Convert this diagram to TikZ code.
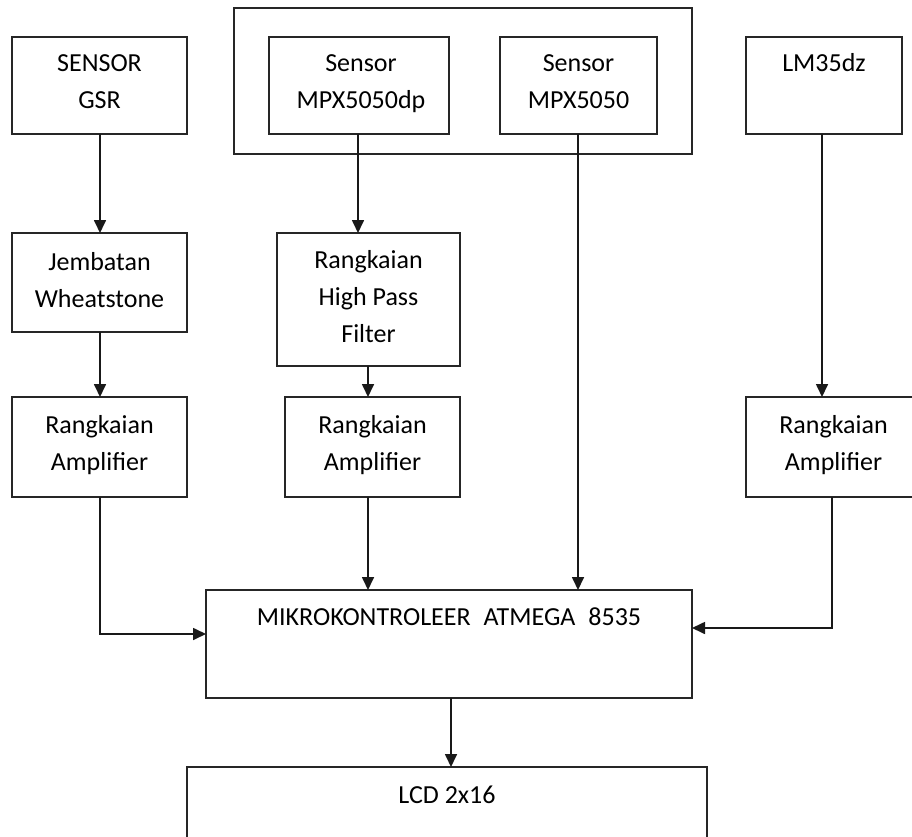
\documentclass[tikz,border=0pt]{standalone}
\usepackage{fontspec}
\setmainfont{Carlito}
\usetikzlibrary{arrows.meta}
\begin{document}
\begin{tikzpicture}[x=1pt,y=-1pt,
  box/.style={draw=black!85, line width=1.5pt, anchor=north west, inner sep=0pt, outer sep=0pt},
  lbl/.style={align=center, anchor=base, inner sep=0pt, font=\fontsize{26}{37}\selectfont},
  arr/.style={draw=black!90, line width=1.7pt, -{Triangle[width=12pt,length=13pt]}},
]
\useasboundingbox (0,0) rectangle (912,837);
\clip (0,0) rectangle (912,837);
\fill[white] (0,0) rectangle (912,837);

% boxes
\node[box, minimum width=458pt, minimum height=146pt] (grp)   at (234,8) {};
\node[box, minimum width=175pt, minimum height=97pt]  (gsr)   at (12,37) {};
\node[box, minimum width=180pt, minimum height=97pt]  (mpxdp) at (269,37) {};
\node[box, minimum width=157pt, minimum height=97pt]  (mpx)   at (500,37) {};
\node[box, minimum width=156pt, minimum height=97pt]  (lm)    at (746,37) {};
\node[box, minimum width=175pt, minimum height=99pt]  (wheat) at (12,233) {};
\node[box, minimum width=183pt, minimum height=133pt] (hpf)   at (277,233) {};
\node[box, minimum width=175pt, minimum height=100pt] (ampL)  at (12,397) {};
\node[box, minimum width=175pt, minimum height=100pt] (ampM)  at (285,397) {};
\node[box, minimum width=175pt, minimum height=100pt] (ampR)  at (746,397) {};
\node[box, minimum width=486pt, minimum height=108pt] (mcu)   at (206,590) {};
\node[box, minimum width=520pt, minimum height=80pt]  (lcd)   at (187,767) {};

% texts (anchor=base is the baseline of the last line)
\node[lbl] (gsrT)   at ([yshift=-72pt]gsr.north)   {SENSOR\\GSR};
\node[lbl] (mpxdpT) at ([yshift=-72pt,xshift=2pt]mpxdp.north) {Sensor\\MPX5050dp};
\node[lbl] (mpxT)   at ([yshift=-72pt]mpx.north)   {Sensor\\MPX5050};
\node[lbl] (lmT)    at ([yshift=-35pt]lm.north)    {LM35dz};
\node[lbl] (wheatT) at ([yshift=-74pt]wheat.north) {Jembatan\\Wheatstone};
\node[lbl] (hpfT)   at ([yshift=-109pt]hpf.north)  {Rangkaian\\High Pass\\Filter};
\node[lbl] (ampLT)  at ([yshift=-73pt]ampL.north)  {Rangkaian\\Amplifier};
\node[lbl] (ampMT)  at ([yshift=-73pt]ampM.north)  {Rangkaian\\Amplifier};
\node[lbl] (ampRT)  at ([yshift=-73pt]ampR.north)  {Rangkaian\\Amplifier};
\node[lbl] (mcuT)   at ([yshift=-35pt]mcu.north)   {MIKROKONTROLEER\hspace{13pt}ATMEGA\hspace{13pt}8535};
\node[lbl] (lcdT)   at ([yshift=-36pt]lcd.north)   {LCD 2x16};

% connectors
\draw[arr] ([xshift=0.5pt]gsr.south) -- ([xshift=0.5pt]gsr.south |- wheat.north);
\draw[arr] ([xshift=0.5pt]wheat.south) -- ([xshift=0.5pt]wheat.south |- ampL.north);
\draw[arr] ([xshift=0.5pt]ampL.south) |- ([yshift=10pt]mcu.west);
\draw[arr] ([xshift=-1pt]mpxdp.south) -- ([xshift=-1pt]mpxdp.south |- hpf.north);
\draw[arr] ([xshift=-0.5pt]hpf.south) -- ([xshift=-0.5pt]hpf.south |- ampM.north);
\draw[arr] ([xshift=-0.5pt]hpf.south |- ampM.south) -- ([xshift=-0.5pt]hpf.south |- mcu.north);
\draw[arr] ([xshift=-0.5pt]mpx.south) -- ([xshift=-0.5pt]mpx.south |- mcu.north);
\draw[arr] ([xshift=-2pt]lm.south) -- ([xshift=-2pt]lm.south |- ampR.north);
\draw[arr] ([xshift=-1.5pt]ampR.south) |- ([yshift=16pt]mcu.east);
\draw[arr] ([xshift=2pt]mcu.south) -- ([xshift=2pt]mcu.south |- lcd.north);
\end{tikzpicture}
\end{document}
